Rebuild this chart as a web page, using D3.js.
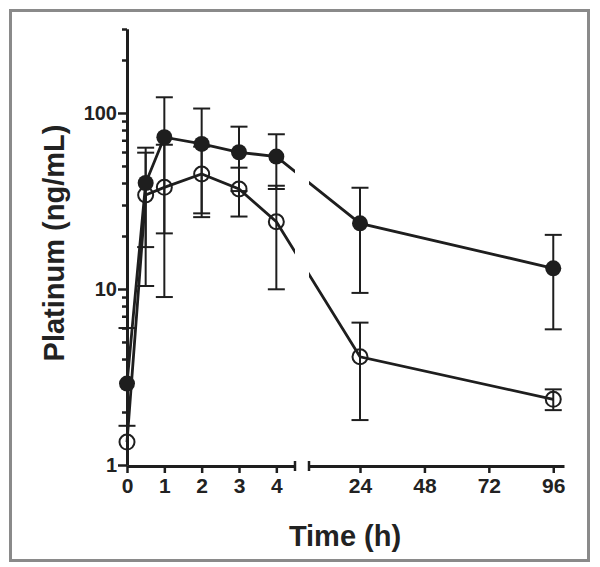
<!DOCTYPE html>
<html>
<head>
<meta charset="utf-8">
<script src="https://cdn.jsdelivr.net/npm/d3@7"></script>
<style>
  body { margin: 0; background: #fff; }
  text { font-family: "Liberation Sans", Arial, sans-serif; font-weight: bold; fill: #222; }
</style>
</head>
<body>
<div id="chart"></div>
<script>
// sampling times (h)
const times = [0, 0.5, 1, 2, 3, 4, 24, 96];

// filled circles
const filledMean = [2.9, 40, 72.8, 66.7, 59.8, 56.5, 23.6, 13.1];
const filledLow  = [1.0, 17.3, 20.7, 26.9, 36.0, 37.0, 9.5, 5.9];
const filledHigh = [6.0, 63.5, 122.8, 106, 83.6, 75.7, 37.6, 20.3];

// open circles
const openMean = [1.35, 34.2, 37.8, 45, 37, 24.1, 4.12, 2.36];
const openLow  = [1.0, 10.4, 9.0, 25.6, 25.8, 9.96, 1.8, 2.05];
const openHigh = [1.67, 59.5, 66, 64.4, 48.9, 38.6, 6.44, 2.69];

const xTicksEarly = [0, 1, 2, 3, 4];
const xTicksLate = [24, 48, 72, 96];
const yMajor = [1, 10, 100];
const yMinor = [2, 3, 4, 5, 6, 7, 8, 9, 20, 30, 40, 50, 60, 70, 80, 90, 200, 300];

const w = 600;
const h = 567;
const ink = "#1e1e1e";

const svg = d3.select('#chart').append("svg")
              .attr("width", w)
              .attr("height", h);

svg.append("rect")
   .attr("x", 10.5).attr("y", 10.5)
   .attr("width", 578).attr("height", 550)
   .attr("fill", "#fff")
   .attr("stroke", "#8a8a8a")
   .attr("stroke-width", 3);

const y = d3.scaleLog().domain([1, 300]).range([465, 29]);
const x1 = d3.scaleLinear().domain([0, 4.5]).range([127, 295]);
const x2 = d3.scaleLinear().domain([5, 100]).range([309, 564]);
const px = t => t <= 4.5 ? x1(t) : x2(t);

// clip that leaves the axis break empty
const defs = svg.append("defs");
const clip = defs.append("clipPath").attr("id", "brk");
clip.append("rect").attr("x", 0).attr("y", 0).attr("width", 295).attr("height", h);
clip.append("rect").attr("x", 309).attr("y", 0).attr("width", w - 309).attr("height", h);

// y axis
const yMaj = svg.append("g")
   .attr("transform", "translate(127,0)")
   .call(d3.axisLeft(y).tickValues(yMajor).tickFormat(d3.format("d"))
           .tickSize(9).tickPadding(1).tickSizeOuter(0));
svg.append("g")
   .attr("transform", "translate(127,0)")
   .call(d3.axisLeft(y).tickValues(yMinor).tickFormat("")
           .tickSize(5).tickSizeOuter(0));

// x axis, two pieces
const xa = svg.append("g")
   .attr("transform", "translate(0,466)")
   .call(d3.axisBottom(x1).tickValues(xTicksEarly).tickFormat(d3.format("d"))
           .tickSize(7).tickPadding(5).tickSizeOuter(0));
const xb = svg.append("g")
   .attr("transform", "translate(0,466)")
   .call(d3.axisBottom(x2).tickValues(xTicksLate).tickFormat(d3.format("d"))
           .tickSize(7).tickPadding(5).tickSizeOuter(0));

svg.selectAll(".domain").attr("stroke", ink).attr("stroke-width", 3);
svg.selectAll(".tick line").attr("stroke", ink).attr("stroke-width", 2.5);
svg.selectAll(".tick text").attr("fill", ink)
   .style("font-family", '"Liberation Sans", Arial, sans-serif')
   .style("font-weight", "bold");
yMaj.selectAll(".tick text").style("font-size", "20px");
xa.selectAll(".tick text").style("font-size", "21px");
xb.selectAll(".tick text").style("font-size", "21px");

// break end marks
[[x1(4.5)], [x2(5)]].forEach(d => {
  svg.append("line")
     .attr("x1", d[0]).attr("x2", d[0])
     .attr("y1", 461).attr("y2", 471)
     .attr("stroke", ink).attr("stroke-width", 2.5);
});

// error bars
const cap = 8.5;
const drawBars = (lo, hi) => {
  const g = svg.append("g").attr("stroke", ink).attr("stroke-width", 2);
  times.forEach((t, i) => {
    const cx = px(t);
    const yl = y(Math.max(lo[i], 1));
    const yh = y(hi[i]);
    g.append("line").attr("x1", cx).attr("x2", cx).attr("y1", yl).attr("y2", yh);
    g.append("line").attr("x1", cx - cap).attr("x2", cx + cap).attr("y1", yh).attr("y2", yh);
    if (lo[i] > 1) {
      g.append("line").attr("x1", cx - cap).attr("x2", cx + cap).attr("y1", yl).attr("y2", yl);
    }
  });
};
drawBars(filledLow, filledHigh);
drawBars(openLow, openHigh);

// connecting lines
const line = d3.line().x(d => px(d[0])).y(d => y(d[1]));
[filledMean, openMean].forEach(m => {
  svg.append("path")
     .datum(times.map((t, i) => [t, m[i]]))
     .attr("d", line)
     .attr("fill", "none")
     .attr("stroke", ink)
     .attr("stroke-width", 2.8)
     .attr("clip-path", "url(#brk)");
});

// markers
svg.selectAll("circle.open")
   .data(times.map((t, i) => [t, openMean[i]]))
   .enter()
   .append("circle")
   .attr("class", "open")
   .attr("cx", d => px(d[0]))
   .attr("cy", d => y(d[1]))
   .attr("r", 7.5)
   .attr("fill", "none")
   .attr("stroke", ink)
   .attr("stroke-width", 2);

svg.selectAll("circle.filled")
   .data(times.map((t, i) => [t, filledMean[i]]))
   .enter()
   .append("circle")
   .attr("class", "filled")
   .attr("cx", d => px(d[0]))
   .attr("cy", d => y(d[1]))
   .attr("r", 8)
   .attr("fill", ink);

// axis titles
svg.append("text")
   .attr("transform", "translate(64,243) rotate(-90)")
   .attr("text-anchor", "middle")
   .style("font-size", "29px")
   .text("Platinum (ng/mL)");

svg.append("text")
   .attr("x", 345).attr("y", 546)
   .attr("text-anchor", "middle")
   .style("font-size", "29px")
   .text("Time (h)");
</script>
</body>
</html>
